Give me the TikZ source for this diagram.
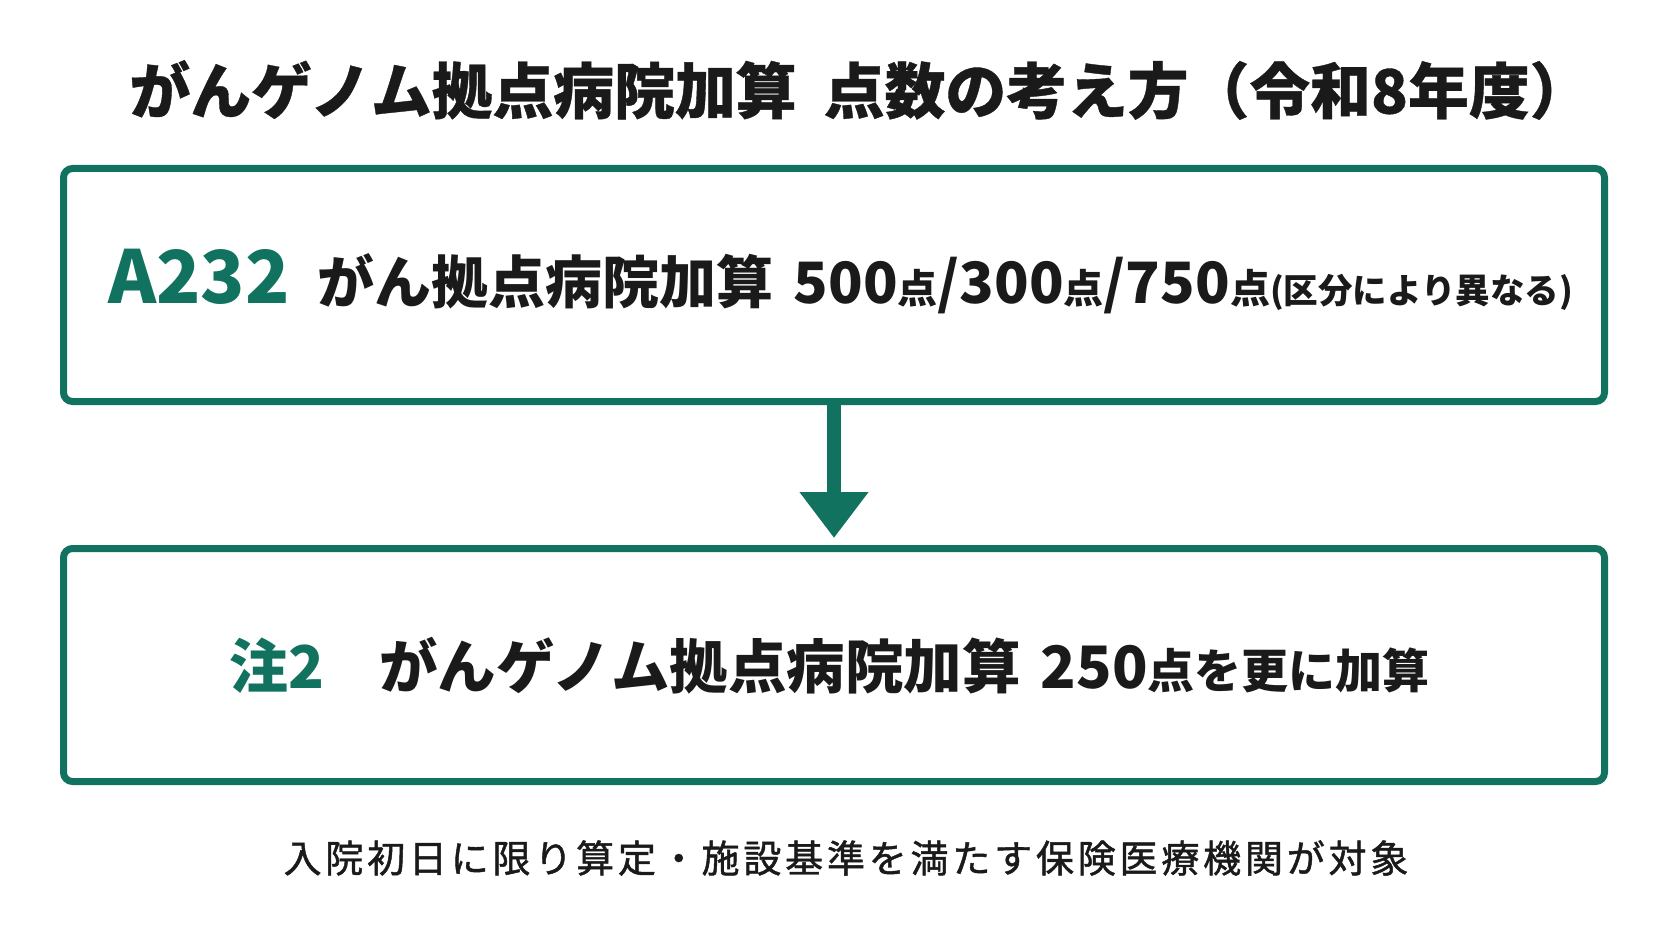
\documentclass[tikz,border=0pt]{standalone}
\usepackage{fontspec}
\newfontfamily\jp{Noto Sans CJK JP}
\usetikzlibrary{arrows.meta}
\definecolor{gk}{HTML}{11735F}
\definecolor{tx}{HTML}{1A1A1A}
\begin{document}
\begin{tikzpicture}[x=1pt,y=-1pt,
  box/.style={draw=gk, line width=7pt, rounded corners=9pt, minimum width=1541pt, minimum height=233pt, inner sep=0pt},
  txt/.style={inner sep=0pt, text=tx, font=\jp\bfseries},
  conn/.style={draw=gk, line width=14pt, -{Triangle[width=66pt,length=46pt]}}]
\useasboundingbox (0,0) rectangle (1672,941);
\fill[white] (0,0) rectangle (1672,941);
\node[txt] (title) at (860,90) {\fontsize{60.8}{60}\selectfont\addfontfeature{FakeBold=0.6}がんゲノム拠点病院加算\hspace{0.45em}点数の考え方（令和8年度）};
\node[box] (b1) at (834,285) {};
\node[box] (b2) at (834,665) {};
\node[txt, anchor=west] (t1) at (108,282) {{\color{gk}\fontsize{73}{73}\selectfont A232}\hspace{28pt}{\fontsize{57}{57}\selectfont がん拠点病院加算\hspace{20pt}500{\fontsize{40}{40}\selectfont 点}/300{\fontsize{40}{40}\selectfont 点}/750{\fontsize{40}{40}\selectfont 点}{\fontsize{34.5}{34}\selectfont (区分により異なる)}}};
\node[txt, anchor=west] (t2) at (229,666) {{\color{gk}\fontsize{59}{59}\selectfont 注2}\hspace{55pt}{\fontsize{58.5}{58}\selectfont がんゲノム拠点病院加算\hspace{20pt}250{\fontsize{47}{47}\selectfont 点を更に加算}}};
\node[inner sep=0pt, text=tx, font=\jp] (cap) at (846,858) {\fontsize{38}{38}\selectfont\addfontfeature{LetterSpace=10,FakeBold=1.2}入院初日に限り算定・施設基準を満たす保険医療機関が対象};
\draw[conn, shorten >=7pt] (b1.south) -- (b2.north);
\end{tikzpicture}
\end{document}
